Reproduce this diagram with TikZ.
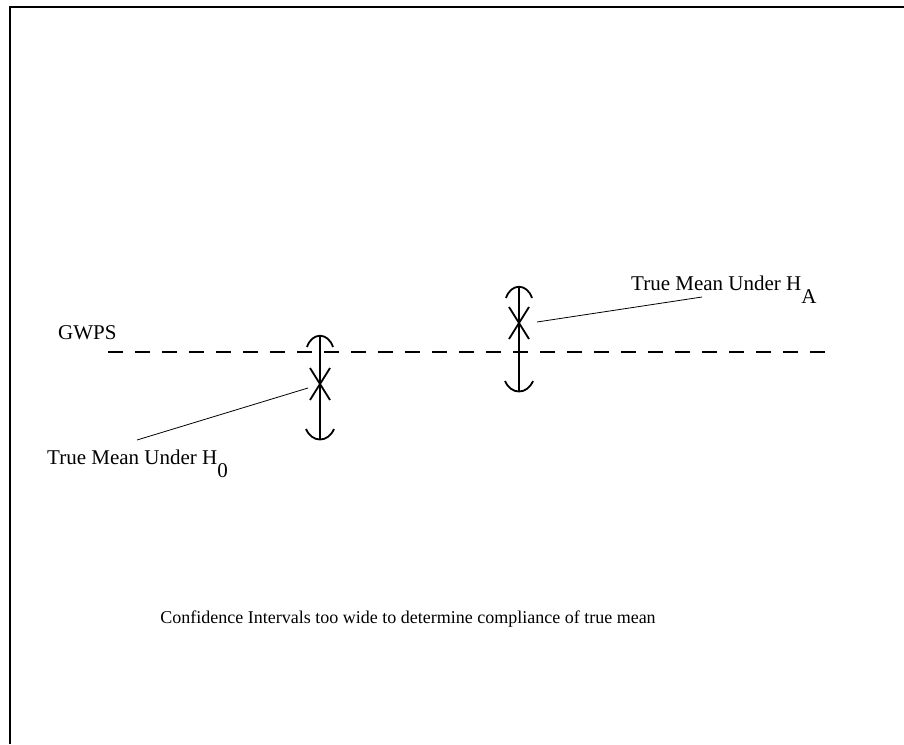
\documentclass[tikz,border=0pt]{standalone}
\usepackage{fontspec}
\setmainfont{Liberation Serif}
\usetikzlibrary{positioning}

\newcommand{\lowsub}[1]{\raisebox{-13pt}{#1}}

\begin{document}
\begin{tikzpicture}[x=1pt, y=-1pt,
    every node/.style={font=\fontsize{21}{24}\selectfont, inner sep=0pt},
    interval/.style={line width=1.8pt},
    leader/.style={line width=0.8pt},
    frame/.style={line width=2pt}]
    \useasboundingbox (0,0) rectangle (904,744);
    % frame
    \draw [frame] (10,744) -- (10,7) -- (904,7);
    % GWPS line
    \coordinate (gwps-beg) at (108,352);
    \coordinate (gwps-end) at (830,352);
    \draw [line width=2pt, dash pattern=on 15pt off 12pt] (gwps-beg) -- (gwps-end);
    \node [anchor=base west] (gwps) at (58,339) {GWPS};
    % confidence intervals
    \foreach \cx/\top/\bot/\mid in {320/335/440/384, 519/286/392/323}{
      \draw [interval] (\cx,\top) -- (\cx,\bot);
      \draw [interval] (\cx-13,\top+12) .. controls (\cx-8,\top-3) and (\cx+8,\top-3) .. (\cx+13,\top+12);
      \draw [interval] (\cx-14,\bot-11) .. controls (\cx-8,\bot+3) and (\cx+8,\bot+3) .. (\cx+14,\bot-11);
      \draw [interval] (\cx-10,\mid-16) -- (\cx+10,\mid+16);
      \draw [interval] (\cx+10,\mid-16) -- (\cx-10,\mid+16);
    }
    % true means
    \coordinate (mean-h0) at (308,388);
    \coordinate (mean-ha) at (537,322);
    \node [anchor=base west] (label-h0) at (47,464) {True Mean Under H\lowsub{0}};
    \node [anchor=base west] (label-ha) at (631,290) {True Mean Under H\lowsub{A}};
    \coordinate (leader-h0) at (137,440);
    \coordinate (leader-ha) at (702,297);
    \draw [leader] (mean-h0) -- (leader-h0);
    \draw [leader] (mean-ha) -- (leader-ha);
    % caption
    \node [anchor=base, font=\fontsize{18}{21}\selectfont] (caption) at (408,623)
    {Confidence Intervals too wide to determine compliance of true mean};
\end{tikzpicture}
\end{document}
